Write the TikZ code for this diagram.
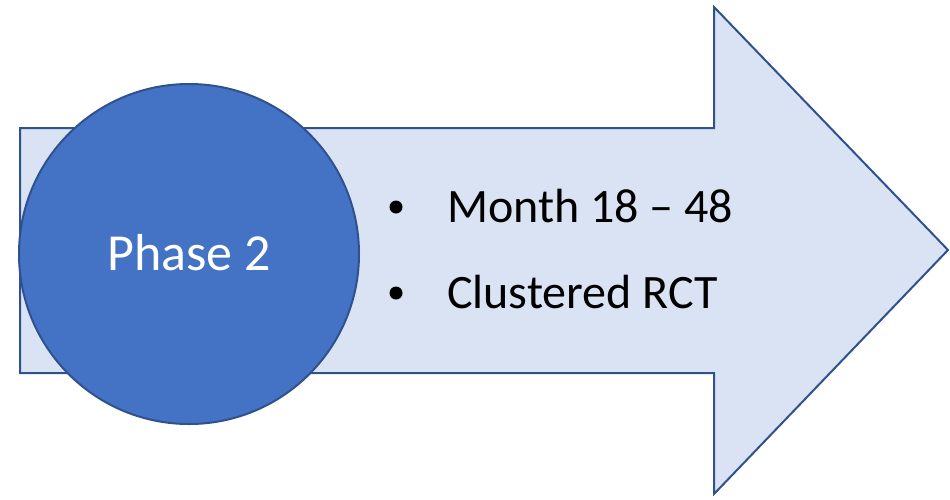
\documentclass[tikz,border=0pt]{standalone}
\usepackage{fontspec}
\setmainfont{Carlito}
\definecolor{arrowfill}{HTML}{DAE3F3}
\definecolor{edgeblue}{HTML}{2F528F}
\definecolor{circfill}{HTML}{4472C4}
\begin{document}
\begin{tikzpicture}[x=1pt,y=-1pt,
  shapeline/.style={draw=edgeblue,line width=2pt,line join=miter},
  bullettext/.style={anchor=base west,font=\fontsize{48}{50}\selectfont,inner sep=0pt},
  bulletdot/.style={circle,fill=black,inner sep=0pt,minimum size=13pt}]
\useasboundingbox (0,0) rectangle (950,499);
\path[shapeline,fill=arrowfill] (20,128) -- (714,128) -- (714,7) -- (948,250) -- (714,494) -- (714,373) -- (20,373) -- cycle;
\node[shapeline,fill=circfill,circle,minimum size=340pt,inner sep=0pt] (phase) at (189,254) {};
\node[anchor=base,font=\fontsize{52}{54}\selectfont,text=white,inner sep=0pt] (phasetext) at (189,270) {Phase 2};
\node[bulletdot] (b1) at (396,207) {};
\node[bullettext] (t1) at (447,222) {Month 18 – 48};
\node[bulletdot] (b2) at (396,293) {};
\node[bullettext] (t2) at (447,308) {Clustered RCT};
\end{tikzpicture}
\end{document}
